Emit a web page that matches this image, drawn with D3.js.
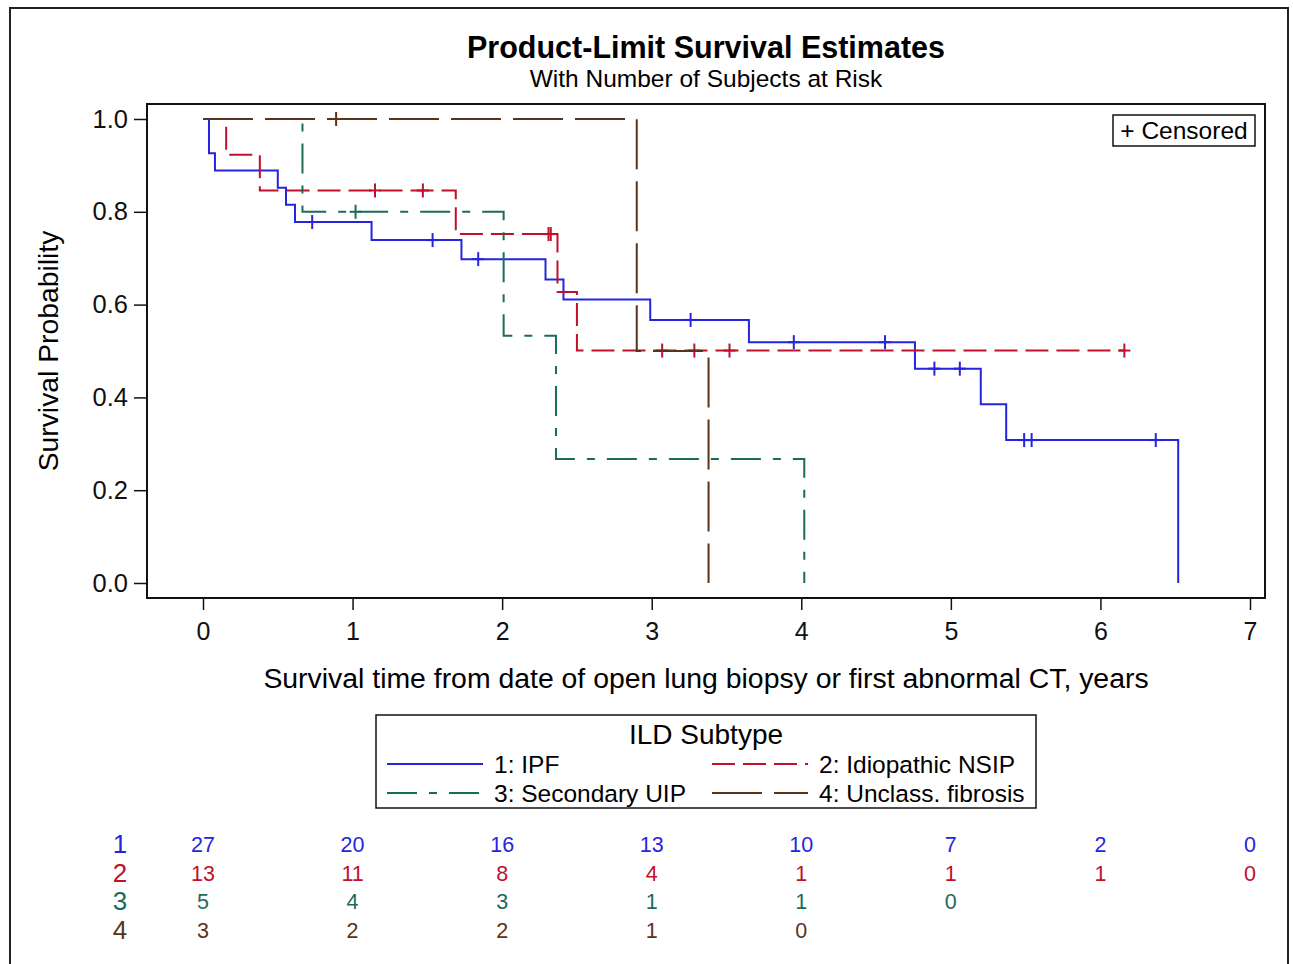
<!DOCTYPE html>
<html>
<head>
<meta charset="utf-8">
<script src="https://cdn.jsdelivr.net/npm/d3@7"></script>
<style>
  body { margin: 0; background: #fff; }
  text { font-family: "Liberation Sans", Arial, sans-serif; }
</style>
</head>
<body>
<div id="chart"></div>
<script>
// Kaplan-Meier curves: event times (years) and survival after each drop
const ipfTimes = [0.04, 0.08, 0.50, 0.555, 0.615, 1.127, 1.728, 2.29, 2.41, 2.99, 3.65, 4.76, 5.20, 5.37, 6.52];
const ipfSurv = [0.926, 0.889, 0.852, 0.815, 0.778, 0.739, 0.698, 0.654, 0.611, 0.567, 0.519, 0.462, 0.385, 0.308, 0.0];
const ipfCensor = [0.73, 1.535, 1.84, 3.26, 3.95, 4.56, 4.89, 5.06, 5.49, 5.54, 6.37];

const nsipTimes = [0.155, 0.38, 1.69, 2.37, 2.50];
const nsipSurv = [0.923, 0.846, 0.752, 0.627, 0.501];
const nsipCensor = [1.15, 1.47, 2.31, 2.325, 3.07, 3.285, 3.52, 6.16];

const suipTimes = [0.665, 2.01, 2.36, 4.02];
const suipSurv = [0.80, 0.533, 0.267, 0.0];
const suipCensor = [1.02];

const uncTimes = [2.90, 3.38];
const uncSurv = [0.50, 0.0];
const uncCensor = [0.89];

// numbers at risk at 0..7 years
const riskTimes = [0, 1, 2, 3, 4, 5, 6, 7];
const riskIPF = [27, 20, 16, 13, 10, 7, 2, 0];
const riskNSIP = [13, 11, 8, 4, 1, 1, 1, 0];
const riskSUIP = [5, 4, 3, 1, 1, 0];
const riskUnc = [3, 2, 2, 1, 0];

const xTicks = [0, 1, 2, 3, 4, 5, 6, 7];
const yTicks = [0, 0.2, 0.4, 0.6, 0.8, 1.0];

const groups = [
  { label: "1: IPF", id: "1", times: ipfTimes, surv: ipfSurv, cens: ipfCensor, risk: riskIPF, color: "#2525e0", dash: null },
  { label: "2: Idiopathic NSIP", id: "2", times: nsipTimes, surv: nsipSurv, cens: nsipCensor, risk: riskNSIP, color: "#c0102a", dash: "23,8" },
  { label: "3: Secondary UIP", id: "3", times: suipTimes, surv: suipSurv, cens: suipCensor, risk: riskSUIP, color: "#1b6b5a", dash: "30,12,8,12" },
  { label: "4: Unclass. fibrosis", id: "4", times: uncTimes, surv: uncSurv, cens: uncCensor, risk: riskUnc, color: "#5a3318", dash: "50,12" },
];

const W = 1293, H = 964;
const frame = { left: 147, top: 104, right: 1265, bottom: 598 };

const svg = d3.select("#chart").append("svg")
  .attr("width", W).attr("height", H);

// outer border
svg.append("rect")
  .attr("x", 10).attr("y", 8).attr("width", 1278).attr("height", 1000)
  .attr("fill", "none").attr("stroke", "#222").attr("stroke-width", 2);

const x = d3.scaleLinear().domain([0, 7]).range([203, 1250]);
const y = d3.scaleLinear().domain([0, 1]).range([583, 119]);

// titles
svg.append("text").attr("x", 706).attr("y", 58).attr("text-anchor", "middle")
  .attr("font-size", 30.5).attr("font-weight", "bold").text("Product-Limit Survival Estimates");
svg.append("text").attr("x", 706).attr("y", 87).attr("text-anchor", "middle")
  .attr("font-size", 24.5).text("With Number of Subjects at Risk");

// plot frame
svg.append("rect")
  .attr("x", frame.left).attr("y", frame.top)
  .attr("width", frame.right - frame.left).attr("height", frame.bottom - frame.top)
  .attr("fill", "none").attr("stroke", "#111").attr("stroke-width", 2);

// axes
const yAxis = svg.append("g")
  .attr("transform", `translate(${frame.left},0)`)
  .call(d3.axisLeft(y).tickValues(yTicks).tickFormat(d3.format(".1f")).tickSize(13).tickPadding(6));
yAxis.select(".domain").remove();
yAxis.selectAll("line").attr("stroke", "#111").attr("stroke-width", 1.5);
yAxis.selectAll("text").attr("font-size", 25.5).attr("fill", "#111")
  .attr("font-family", "Liberation Sans, Arial, sans-serif");

const xAxis = svg.append("g")
  .attr("transform", `translate(0,${frame.bottom})`)
  .call(d3.axisBottom(x).tickValues(xTicks).tickFormat(d3.format("d")).tickSize(12).tickPadding(12));
xAxis.select(".domain").remove();
xAxis.selectAll("line").attr("stroke", "#111").attr("stroke-width", 1.5);
xAxis.selectAll("text").attr("font-size", 25).attr("fill", "#111")
  .attr("font-family", "Liberation Sans, Arial, sans-serif");

svg.append("text")
  .attr("transform", "translate(58,351) rotate(-90)")
  .attr("text-anchor", "middle").attr("font-size", 28.3).text("Survival Probability");
svg.append("text").attr("x", 706).attr("y", 688).attr("text-anchor", "middle")
  .attr("font-size", 28.4).text("Survival time from date of open lung biopsy or first abnormal CT, years");

// curves
const line = d3.line().x(d => x(d[0])).y(d => y(d[1])).curve(d3.curveStepAfter);

function survAt(g, t) {
  let s = 1;
  g.times.forEach((tt, i) => { if (tt <= t) s = g.surv[i]; });
  return s;
}

groups.forEach(g => {
  const pts = [[0, 1]];
  g.times.forEach((t, i) => pts.push([t, g.surv[i]]));
  const lastS = g.surv[g.surv.length - 1];
  const lastCens = d3.max(g.cens);
  if (lastS > 0 && lastCens > g.times[g.times.length - 1]) pts.push([lastCens, lastS]);

  svg.append("path").datum(pts)
    .attr("d", line)
    .attr("fill", "none")
    .attr("stroke", g.color)
    .attr("stroke-width", 2)
    .attr("stroke-dasharray", g.dash);

  const cg = svg.append("g").attr("stroke", g.color).attr("stroke-width", 2);
  g.cens.forEach(t => {
    const cx = x(t), cy = y(survAt(g, t));
    cg.append("line").attr("x1", cx).attr("x2", cx).attr("y1", cy - 7).attr("y2", cy + 7);
    cg.append("line").attr("x1", cx - 6).attr("x2", cx + 6).attr("y1", cy).attr("y2", cy);
  });
});

// censored legend
svg.append("rect").attr("x", 1113).attr("y", 115).attr("width", 142).attr("height", 31)
  .attr("fill", "#fff").attr("stroke", "#111").attr("stroke-width", 1.5);
svg.append("text").attr("x", 1184).attr("y", 139).attr("text-anchor", "middle")
  .attr("font-size", 24.5).text("+ Censored");

// group legend
svg.append("rect").attr("x", 376).attr("y", 715).attr("width", 660).attr("height", 93)
  .attr("fill", "none").attr("stroke", "#111").attr("stroke-width", 1.5);
svg.append("text").attr("x", 706).attr("y", 744).attr("text-anchor", "middle")
  .attr("font-size", 28).text("ILD Subtype");

const legPos = [[387, 764], [712, 764], [387, 793], [712, 793]];
groups.forEach((g, i) => {
  const [lx, ly] = legPos[i];
  svg.append("line").attr("x1", lx).attr("x2", lx + 96).attr("y1", ly).attr("y2", ly)
    .attr("stroke", g.color).attr("stroke-width", 2).attr("stroke-dasharray", g.dash);
  svg.append("text").attr("x", lx + 107).attr("y", ly + 9).attr("font-size", 24.5).text(g.label);
});

// at-risk table
const rowY = [844, 873, 901, 930];
groups.forEach((g, i) => {
  svg.append("text").attr("x", 120).attr("y", rowY[i] + 9).attr("text-anchor", "middle")
    .attr("font-size", 26).attr("fill", g.color).text(g.id);
  svg.selectAll(null).data(g.risk).enter().append("text")
    .attr("x", (d, j) => x(riskTimes[j]))
    .attr("y", rowY[i] + 7.5)
    .attr("text-anchor", "middle")
    .attr("font-size", 21.5)
    .attr("fill", g.color)
    .text(d => d);
});
</script>
</body>
</html>
